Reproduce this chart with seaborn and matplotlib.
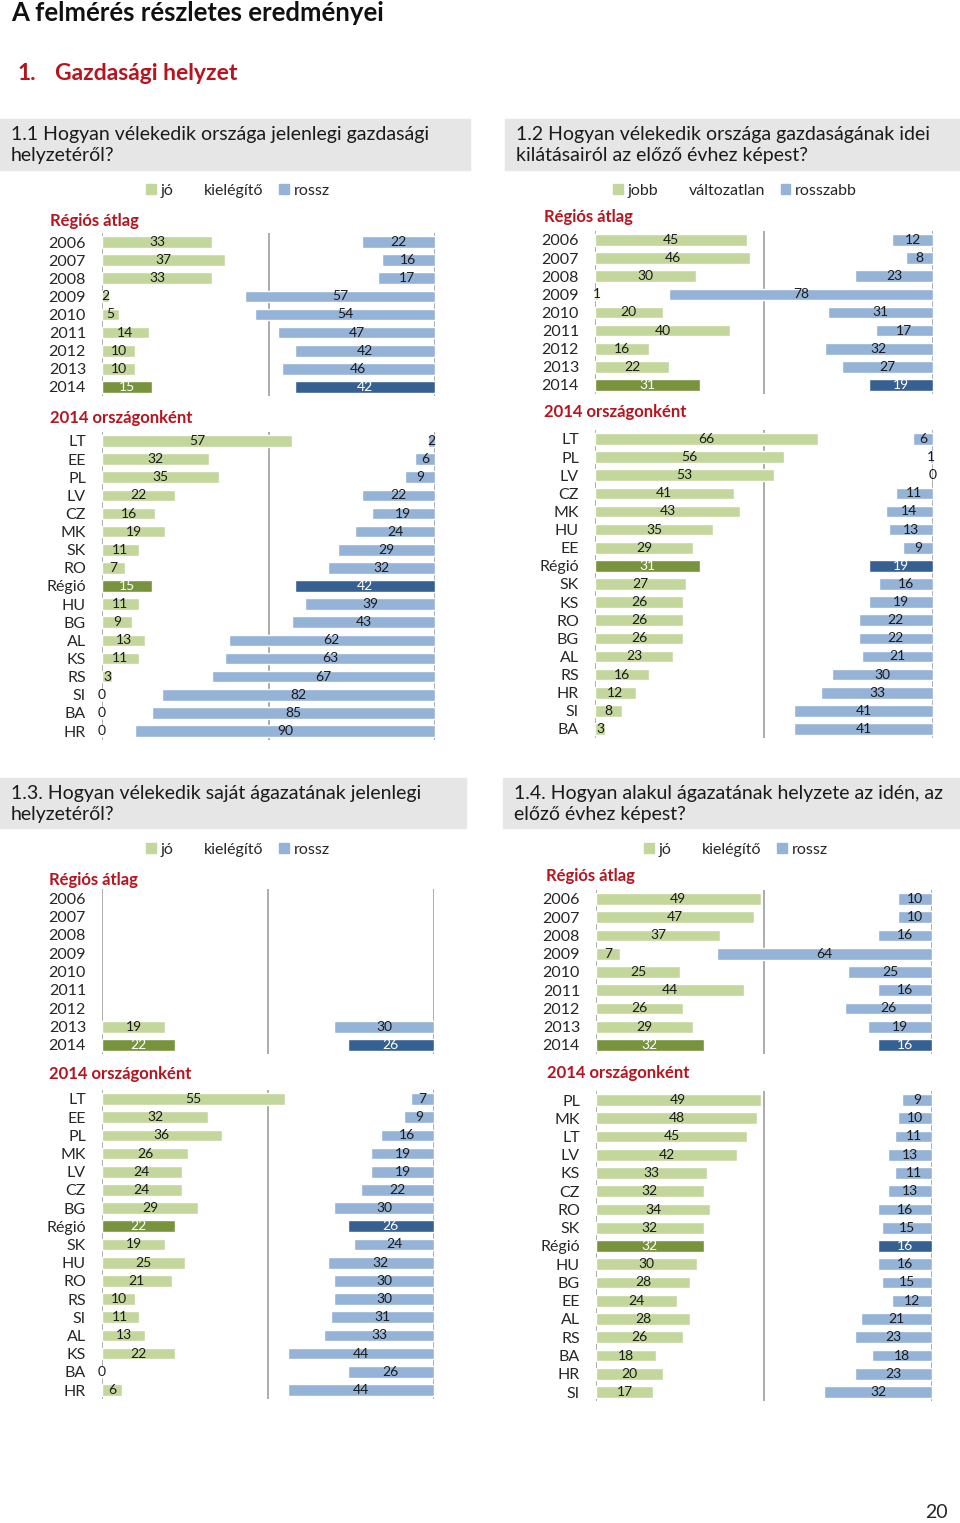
import pandas as pd
import seaborn as sns
import matplotlib
matplotlib.use('Agg')
import matplotlib.pyplot as plt
from matplotlib.patches import Patch, Rectangle

# ---- data ---------------------------------------------------------------
years = ['2006', '2007', '2008', '2009', '2010', '2011', '2012', '2013', '2014']

# 1.1 current economic situation of the country
p11_year_good = [33, 37, 33, 2, 5, 14, 10, 10, 15]
p11_year_bad = [22, 16, 17, 57, 54, 47, 42, 46, 42]
p11_countries = ['LT', 'EE', 'PL', 'LV', 'CZ', 'MK', 'SK', 'RO', 'Régió',
                 'HU', 'BG', 'AL', 'KS', 'RS', 'SI', 'BA', 'HR']
p11_good = [57, 32, 35, 22, 16, 19, 11, 7, 15, 11, 9, 13, 11, 3, 0, 0, 0]
p11_bad = [2, 6, 9, 22, 19, 24, 29, 32, 42, 39, 43, 62, 63, 67, 82, 85, 90]

# 1.2 outlook vs previous year
p12_year_good = [45, 46, 30, 1, 20, 40, 16, 22, 31]
p12_year_bad = [12, 8, 23, 78, 31, 17, 32, 27, 19]
p12_countries = ['LT', 'PL', 'LV', 'CZ', 'MK', 'HU', 'EE', 'Régió', 'SK',
                 'KS', 'RO', 'BG', 'AL', 'RS', 'HR', 'SI', 'BA']
p12_good = [66, 56, 53, 41, 43, 35, 29, 31, 27, 26, 26, 26, 23, 16, 12, 8, 3]
p12_bad = [6, 1, 0, 11, 14, 13, 9, 19, 16, 19, 22, 22, 21, 30, 33, 41, 41]

# 1.3 own sector, current (only 2013-2014 asked)
p13_year_good = [None, None, None, None, None, None, None, 19, 22]
p13_year_bad = [None, None, None, None, None, None, None, 30, 26]
p13_countries = ['LT', 'EE', 'PL', 'MK', 'LV', 'CZ', 'BG', 'Régió', 'SK',
                 'HU', 'RO', 'RS', 'SI', 'AL', 'KS', 'BA', 'HR']
p13_good = [55, 32, 36, 26, 24, 24, 29, 22, 19, 25, 21, 10, 11, 13, 22, 0, 6]
p13_bad = [7, 9, 16, 19, 19, 22, 30, 26, 24, 32, 30, 30, 31, 33, 44, 26, 44]

# 1.4 own sector vs previous year
p14_year_good = [49, 47, 37, 7, 25, 44, 26, 29, 32]
p14_year_bad = [10, 10, 16, 64, 25, 16, 26, 19, 16]
p14_countries = ['PL', 'MK', 'LT', 'LV', 'KS', 'CZ', 'RO', 'SK', 'Régió',
                 'HU', 'BG', 'EE', 'AL', 'RS', 'BA', 'HR', 'SI']
p14_good = [49, 48, 45, 42, 33, 32, 34, 32, 32, 30, 28, 24, 28, 26, 18, 20, 17]
p14_bad = [9, 10, 11, 13, 11, 13, 16, 15, 16, 16, 15, 12, 21, 23, 18, 23, 32]

# ---- style --------------------------------------------------------------
W, H = 960, 1523
LGREEN, DGREEN = '#C3D69B', '#77933C'
LBLUE, DBLUE = '#95B3D7', '#376092'
RED = '#B8141E'
GRID = '#A6A6A6'

sns.set_style('white')
plt.rcParams['font.family'] = ['Lato', 'DejaVu Sans']

fig = plt.figure(figsize=(W / 100, H / 100), dpi=100)


def rect(x0, x1, y_first, y_last, n):
    pitch = (y_last - y_first) / (n - 1)
    top = y_first - pitch / 2
    bottom = y_last + pitch / 2
    return [x0 / W, 1 - bottom / H, (x1 - x0) / W, (bottom - top) / H]


def bars(ax, labels, vals, light, dark, hl, reverse):
    df = pd.DataFrame({'lab': labels, 'val': vals}).dropna()
    pal = {l: (dark if l == hl else light) for l in df.lab}
    sns.barplot(data=df, x='val', y='lab', hue='lab', palette=pal, order=labels,
                legend=False, ax=ax, width=0.64, saturation=1)
    ax.set_xlim((100, 0) if reverse else (0, 100))
    for cont in ax.containers:
        b = cont[0]
        lab = labels[int(round(b.get_y() + b.get_height() / 2))]
        ax.bar_label(cont, fmt='{:.0f}', label_type='center', fontsize=10,
                     color='white' if lab == hl else '#1a1a1a')
    ax.set_xlabel('')
    ax.set_ylabel('')
    ax.set_xticks([])
    sns.despine(ax=ax, left=True, bottom=True)


def block(x0, x1, y_first, y_last, labels, good, bad, hl):
    r = rect(x0, x1, y_first, y_last, len(labels))
    ax = fig.add_axes(r)
    bars(ax, labels, good, LGREEN, DGREEN, hl, False)
    for v in (0, 50, 100):
        ax.axvline(v, color=GRID, lw=1.3, zorder=0)
    ax.tick_params(axis='y', length=0, pad=11.5, labelsize=11.5)
    ax.set_yticks(range(len(labels)))
    ax.set_yticklabels(labels)
    ax2 = fig.add_axes(r)
    ax2.patch.set_alpha(0)
    bars(ax2, labels, bad, LBLUE, DBLUE, hl, True)
    ax2.set_yticks([])


def header(x0, x1, y0, y1, text):
    fig.add_artist(Rectangle((x0 / W, 1 - y1 / H), (x1 - x0) / W, (y1 - y0) / H,
                             transform=fig.transFigure, color='#E6E6E6', zorder=0))
    fig.text((x0 + 11) / W, 1 - (y0 + 26) / H, text, fontsize=14,
             va='center', ha='left', linespacing=1.3, color='#1a1a1a')


def legend(xc, yc, names):
    handles = [Patch(color=LGREEN), Patch(color='none'), Patch(color=LBLUE)]
    fig.legend(handles, names, loc='center', bbox_to_anchor=(xc / W, 1 - yc / H),
               ncol=3, frameon=False, fontsize=11.5, handlelength=0.6,
               handleheight=0.6, handletextpad=0.3, columnspacing=1.0,
               borderpad=0)


def red(x, y, text):
    fig.text(x / W, 1 - y / H, text, color=RED, fontsize=12, fontweight='bold',
             va='center', ha='left')


# ---- page titles --------------------------------------------------------
fig.text(11 / W, 1 - 13 / H, 'A felmérés részletes eredményei', fontsize=18.5,
         fontweight='bold', va='center', ha='left', color='#111111')
fig.text(18 / W, 1 - 74 / H, '1.', fontsize=16.5, fontweight='bold',
         color=RED, va='center', ha='left')
fig.text(55 / W, 1 - 74 / H, 'Gazdasági helyzet', fontsize=16.5,
         fontweight='bold', color=RED, va='center', ha='left')
fig.text(948 / W, 1 - 1513 / H, '20', fontsize=14, va='center', ha='right')

# ---- 1.1 ----------------------------------------------------------------
header(0, 470, 119, 170, '1.1 Hogyan vélekedik országa jelenlegi gazdasági\nhelyzetéről?')
legend(238, 191, ['jó', 'kielégítő', 'rossz'])
red(50, 221, 'Régiós átlag')
block(102, 435, 242, 387, years, p11_year_good, p11_year_bad, '2014')
red(50, 418, '2014 országonként')
block(102, 435, 441, 731, p11_countries, p11_good, p11_bad, 'Régió')

# ---- 1.2 ----------------------------------------------------------------
header(505, 960, 119, 170, '1.2 Hogyan vélekedik országa gazdaságának idei\nkilátásairól az előző évhez képest?')
legend(735, 191, ['jobb', 'változatlan', 'rosszabb'])
red(544, 217, 'Régiós átlag')
block(595, 933, 240, 385, years, p12_year_good, p12_year_bad, '2014')
red(544, 412, '2014 országonként')
block(595, 933, 439, 729, p12_countries, p12_good, p12_bad, 'Régió')

# ---- 1.3 ----------------------------------------------------------------
header(0, 466, 778, 828, '1.3. Hogyan vélekedik saját ágazatának jelenlegi\nhelyzetéről?')
legend(238, 850, ['jó', 'kielégítő', 'rossz'])
red(49, 880, 'Régiós átlag')
block(102, 434, 898, 1045, years, p13_year_good, p13_year_bad, '2014')
red(49, 1074, '2014 országonként')
block(102, 434, 1099, 1390, p13_countries, p13_good, p13_bad, 'Régió')

# ---- 1.4 ----------------------------------------------------------------
header(503, 960, 778, 828, '1.4. Hogyan alakul ágazatának helyzete az idén, az\nelőző évhez képest?')
legend(736, 850, ['jó', 'kielégítő', 'rossz'])
red(546, 876, 'Régiós átlag')
block(596, 932, 899, 1045, years, p14_year_good, p14_year_bad, '2014')
red(547, 1073, '2014 országonként')
block(596, 932, 1100, 1392, p14_countries, p14_good, p14_bad, 'Régió')

fig.savefig('out.png', dpi=100)
